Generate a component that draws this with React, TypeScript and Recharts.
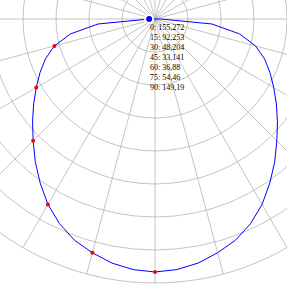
import { RadarChart, Radar, PolarGrid, PolarAngleAxis, PolarRadiusAxis } from "recharts";

const gammaAngles = [
  -90, -85, -80, -75, -70, -65, -60, -55, -50, -45, -40, -35, -30, -25, -20, -15, -10, -5,
  0, 5, 10, 15, 20, 25, 30, 35, 40, 45, 50, 55, 60, 65, 70, 75, 80, 85, 90,
];
const c0c180 = [
  8, 78, 117, 142, 159, 173, 187, 202, 218, 235, 254, 273, 292, 308, 321, 330, 338, 343,
  345, 343, 338, 330, 321, 308, 292, 273, 254, 235, 218, 202, 187, 173, 159, 142, 117, 78, 8,
];
const angleTicks = [-165, -150, -135, -120, -105, -90, -75, -60, -45, -30, -15, 0, 15, 30, 45, 60, 75, 90, 105, 120, 135, 150, 165, 180];
const radiusTicks = [0, 45, 90, 135, 180, 225, 270, 315, 360];
const data = gammaAngles.map((a, i) => ({ angle: a, c0: c0c180[i] }));

function Dot(p: any) {
  const a = p.payload?.angle;
  if (a < 0 || a % 15 !== 0) return <g />;
  return (
    <g>
      <circle cx={p.cx} cy={p.cy} r={2} fill="red" />
      <text x={150} y={30 + (a / 15) * 10} fontSize={8}>{`${a}: ${Math.round(p.cx)},${Math.round(p.cy)}`}</text>
    </g>
  );
}

export default function App() {
  return (
    <div style={{ position: "absolute", left: 0, top: 0 }}>
      <RadarChart width={287} height={293} data={data} cx={155} cy={19} outerRadius={264} startAngle={90} endAngle={-270} margin={{ top: 0, right: 0, bottom: 0, left: 0 }}>
        <PolarGrid gridType="circle" stroke="#aaa" strokeWidth={0.7} />
        <PolarAngleAxis dataKey="angle" type="number" domain={[-180, 180]} ticks={angleTicks} tick={false} axisLine={false} />
        <PolarRadiusAxis angle={-90} type="number" domain={[0, 360]} ticks={radiusTicks} axisLine={false} tickLine={false} tick={false} />
        <Radar dataKey="c0" stroke="blue" fill="none" dot={Dot} isAnimationActive={false} />
      </RadarChart>
    </div>
  );
}
